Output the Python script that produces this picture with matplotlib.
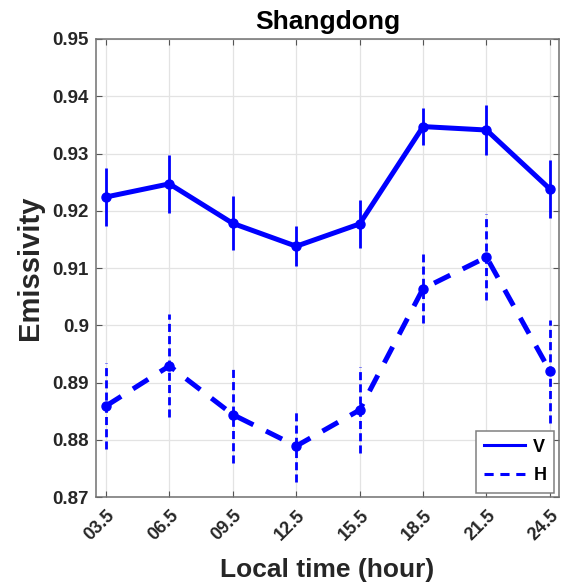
import numpy as np
import matplotlib
matplotlib.use("Agg")
import matplotlib.pyplot as plt
import matplotlib.transforms as mtransforms
from matplotlib.lines import Line2D

# ----------------------------------------------------------------------
hours = [3.5, 6.5, 9.5, 12.5, 15.5, 18.5, 21.5, 24.5]
hour_labels = ["03.5", "06.5", "09.5", "12.5", "15.5", "18.5", "21.5", "24.5"]

v_mean = [0.9224, 0.9247, 0.9178, 0.9138, 0.9177, 0.9347, 0.9341, 0.9238]
v_err = [0.0051, 0.0051, 0.0047, 0.0035, 0.0042, 0.0033, 0.0043, 0.0051]

h_mean = [0.8859, 0.8929, 0.8844, 0.8789, 0.8852, 0.9064, 0.9119, 0.8920]
h_err = [0.0075, 0.0090, 0.0085, 0.0063, 0.0075, 0.0060, 0.0075, 0.0090]

BLUE = "#0000ff"

plt.rcParams["font.family"] = ["Liberation Sans", "DejaVu Sans"]
plt.rcParams["font.weight"] = "bold"

fig = plt.figure(figsize=(5.63, 5.82), dpi=100)
ax = fig.add_axes([0.1705, 0.146, 0.8224, 0.787])

# V: solid line, solid error bars
ax.errorbar(hours, v_mean, yerr=v_err, color=BLUE, lw=3.6, elinewidth=2,
            marker="o", ms=6.5, capsize=0)

# H: dashed line, dashed error bars
eb = ax.errorbar(hours, h_mean, yerr=h_err, color=BLUE, lw=3.6, elinewidth=2,
                 marker="o", ms=6.5, capsize=0, ls=(0, (3.6, 2.8)))
eb[2][0].set_linestyle((0, (2.9, 1.5)))

ax.set_xlim(3.03, 24.93)
ax.set_ylim(0.87, 0.95)
ax.set_xticks(hours)
ax.set_xticklabels(hour_labels, rotation=45, ha="center", va="top")
ax.set_yticks(np.arange(0.87, 0.951, 0.01))
ax.set_yticklabels(["0.87", "0.88", "0.89", "0.9", "0.91", "0.92",
                    "0.93", "0.94", "0.95"])
ax.tick_params(labelsize=13.5, direction="in", top=True, right=True,
               length=4, color="#555555", labelcolor="#262626")
ax.tick_params(axis="x", pad=7, labelsize=13)
ax.tick_params(axis="y", pad=5)

# nudge x tick labels a little to the left (keeps 24.5 inside the figure)
shift = mtransforms.ScaledTranslation(-6 / 100, 0, fig.dpi_scale_trans)
for lab in ax.get_xticklabels():
    lab.set_transform(lab.get_transform() + shift)

ax.grid(True, color="#e3e3e3", lw=0.9)
ax.set_axisbelow(True)
for s in ax.spines.values():
    s.set_color("#707070")
    s.set_linewidth(1.1)

ax.set_title("Shangdong", fontsize=19, fontweight="bold", pad=7)
ax.set_xlabel("Local time (hour)", fontsize=19, fontweight="bold",
              color="#262626", labelpad=10)
ax.set_ylabel("Emissivity", fontsize=21, fontweight="bold", color="#262626",
              labelpad=6)

handles = [Line2D([], [], color=BLUE, lw=2.2),
           Line2D([], [], color=BLUE, lw=2.2, ls=(0, (3, 2.2)))]
leg = ax.legend(handles, ["V", "H"], loc="lower right", fontsize=13,
                handlelength=2.3, handletextpad=0.45, borderpad=0.45,
                labelspacing=0.65, fancybox=False, edgecolor="#808080",
                framealpha=1, borderaxespad=0.25)
leg.get_frame().set_linewidth(1.1)

fig.savefig("out.png", dpi=100)
